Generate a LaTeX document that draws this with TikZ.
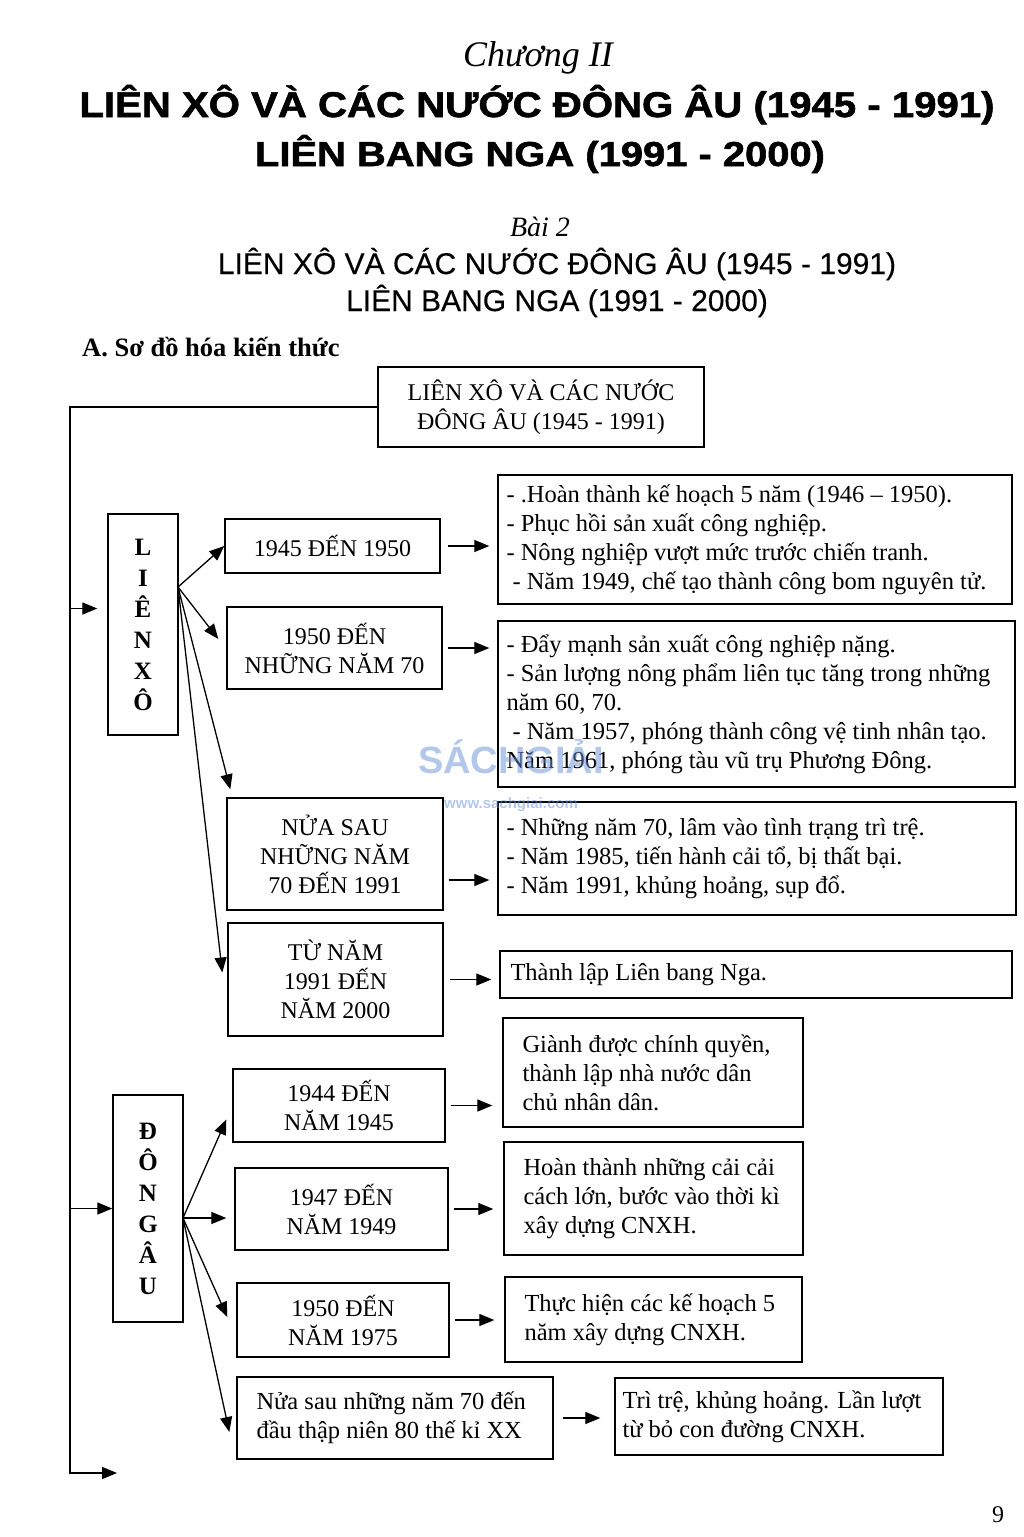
\documentclass[tikz,border=0pt]{standalone}
\usepackage{fontspec}
\usepackage{graphicx}
\setmainfont{Liberation Serif}
\setsansfont{Liberation Sans}
\newfontfamily\sansmed{Liberation Sans}[FakeBold=0.3]
\newfontfamily\sansheavy{Liberation Sans Bold}[FakeBold=1.5]
\usetikzlibrary{arrows.meta}
\definecolor{wm}{RGB}{105,145,215}
\newcommand\mkbox[7][]{\node[bx,#1, minimum width={#5-#3}, minimum height={#6-#4}] (#2) at ({(#3+#5)/2},{(#4+#6)/2}) {#7};}
\begin{document}
\begin{tikzpicture}[x=1pt,y=-1pt,
  bx/.style={draw, line width=1.4pt, inner sep=0pt, align=center, font=\fontsize{24}{29}\selectfont},
  txt/.style={inner sep=0pt, align=left, anchor=west, font=\fontsize{24.5}{29}\selectfont},
  vl/.style={font=\bfseries\fontsize{25}{31}\selectfont},
  arr/.style={line width=1.3pt, -{Triangle[length=15pt,width=12pt]}},
  ln/.style={line width=1.3pt}]
\useasboundingbox[fill=white] (0,0) rectangle (1024,1537);

% headings
\node[inner sep=0pt, anchor=base, font=\itshape\fontsize{36}{40}\selectfont] (ch) at (538,66) {Chương II};
\node[inner sep=0pt, anchor=base] (h1) at (537,117) {\resizebox{915pt}{32pt}{\sansheavy LIÊN XÔ VÀ CÁC NƯỚC ĐÔNG ÂU (1945 - 1991)}};
\node[inner sep=0pt, anchor=base] (h2) at (540,166) {\resizebox{570pt}{31pt}{\sansheavy LIÊN BANG NGA (1991 - 2000)}};
\node[inner sep=0pt, anchor=base, font=\itshape\fontsize{28}{32}\selectfont] (bai) at (540,236) {Bài 2};
\node[inner sep=0pt, anchor=base, font=\sansmed\fontsize{30}{34}\selectfont] (s1) at (557,274) {LIÊN XÔ VÀ CÁC NƯỚC ĐÔNG ÂU (1945 - 1991)};
\node[inner sep=0pt, anchor=base, font=\sansmed\fontsize{30}{34}\selectfont] (s2) at (557,311) {LIÊN BANG NGA (1991 - 2000)};
\node[inner sep=0pt, anchor=base west, font=\bfseries\fontsize{26.5}{30}\selectfont] (sec) at (82,356) {A. Sơ đồ hóa kiến thức};

% boxes
\mkbox{tb}{378}{367}{704}{447}{LIÊN XÔ VÀ CÁC NƯỚC\\ĐÔNG ÂU (1945 - 1991)}
\mkbox[vl]{lx}{108}{514}{178}{735}{L\\I\\Ê\\N\\X\\Ô}
\mkbox[vl]{da}{113}{1095}{183}{1322}{Đ\\Ô\\N\\G\\Â\\U}

\mkbox{b1}{225}{519}{440}{573}{1945 ĐẾN 1950}
\mkbox{b2}{227}{607}{442}{689}{1950 ĐẾN\\NHỮNG NĂM 70}
\mkbox{b3}{227}{798}{443}{910}{NỬA SAU\\NHỮNG NĂM\\70 ĐẾN 1991}
\mkbox{b4}{228}{923}{443}{1036}{TỪ NĂM\\1991 ĐẾN\\NĂM 2000}

\mkbox{r1}{498}{475}{1012}{604}{}
\mkbox{r2}{498}{621}{1015}{787}{}
\mkbox{r3}{498}{802}{1016}{915}{}
\mkbox{r4}{500}{951}{1012}{998}{}

\mkbox{g1}{233}{1069}{445}{1142}{1944 ĐẾN\\NĂM 1945}
\mkbox{g2}{235}{1168}{448}{1250}{1947 ĐẾN\\NĂM 1949}
\mkbox{g3}{237}{1283}{449}{1357}{1950 ĐẾN\\NĂM 1975}
\mkbox{g4}{237}{1377}{553}{1459}{}

\mkbox{e1}{503}{1018}{803}{1127}{}
\mkbox{e2}{504}{1142}{803}{1255}{}
\mkbox{e3}{505}{1277}{802}{1362}{}
\mkbox{e4}{615}{1378}{943}{1455}{}

% box texts
\node[txt] (r1t) at ([xshift=9pt]r1.west) {- .Hoàn thành kế hoạch 5 năm (1946 – 1950).\\- Phục hồi sản xuất công nghiệp.\\- Nông nghiệp vượt mức trước chiến tranh.\\\hspace*{6pt}- Năm 1949, chế tạo thành công bom nguyên tử.};
\node[txt] (r2t) at ([xshift=9pt]r2.west) {- Đẩy mạnh sản xuất công nghiệp nặng.\\- Sản lượng nông phẩm liên tục tăng trong những\\năm 60, 70.\\\hspace*{6pt}- Năm 1957, phóng thành công vệ tinh nhân tạo.\\Năm 1961, phóng tàu vũ trụ Phương Đông.};
\node[txt] (r3t) at ([xshift=9pt]r3.west) {- Những năm 70, lâm vào tình trạng trì trệ.\\- Năm 1985, tiến hành cải tổ, bị thất bại.\\- Năm 1991, khủng hoảng, sụp đổ.};
\node[txt] (r4t) at ([xshift=11pt]r4.west) {Thành lập Liên bang Nga.};
\node[txt] (g4t) at ([xshift=20pt]g4.west) {Nửa sau những năm 70 đến\\đầu thập niên 80 thế kỉ XX};
\node[txt] (e1t) at ([xshift=20pt]e1.west) {Giành được chính quyền,\\thành lập nhà nước dân\\chủ nhân dân.};
\node[txt] (e2t) at ([xshift=20pt]e2.west) {Hoàn thành những cải cải\\cách lớn, bước vào thời kì\\xây dựng CNXH.};
\node[txt] (e3t) at ([xshift=20pt]e3.west) {Thực hiện các kế hoạch 5\\năm xây dựng CNXH.};
\node[txt] (e4t) at ([xshift=8pt]e4.west) {Trì trệ, khủng hoảng. Lần lượt\\từ bỏ con đường CNXH.};

% trunk
\coordinate (tbot) at (70,1473);
\coordinate (tend) at (117,1473);
\draw[arr] (tb.west) -| (tbot) -- (tend);
\coordinate (lxin) at ([yshift=16pt]lx.west);
\draw[arr, shorten >=10pt] (lxin -| tbot) -- (lxin);
\draw[arr] (da.west -| tbot) -- (da.west);

% Lien Xo fan
\coordinate (lxo) at (178,587);
\draw[arr] (lxo) -- (b1.west);
\draw[arr] (lxo) -- ([xshift=-8pt,yshift=9pt]b2.west);
\draw[arr] (lxo) -- ([xshift=4pt,yshift=8pt]b3.north west);
\draw[arr] (lxo) -- ([xshift=-5pt,yshift=7pt]b4.west);

% Dong Au fan
\coordinate (dao) at (183,1218);
\draw[arr] (dao) -- ([xshift=-6pt,yshift=-14pt]g1.west);
\draw[arr] (dao) -- ([xshift=-8pt,yshift=-9pt]g2.west);
\draw[arr] (dao) -- ([xshift=-9pt,yshift=3pt]g3.west);
\draw[arr] (dao) -- ([xshift=-7pt,yshift=-14pt]g4.west);

% horizontal arrows
\draw[arr, shorten <=7pt, shorten >=8pt] (b1.east) -- (b1.east -| r1.west);
\draw[arr, shorten <=5pt, shorten >=8pt] (b2.east) -- (b2.east -| r2.west);
\coordinate (b3a) at ([yshift=-26pt]b3.east);
\draw[arr, shorten <=5pt, shorten >=8pt] (b3a) -- (b3a -| r3.west);
\draw[arr, shorten <=6pt, shorten >=8pt] (b4.east) -- (b4.east -| r4.west);
\draw[arr, shorten <=5pt, shorten >=10pt] (g1.east) -- (g1.east -| e1.west);
\draw[arr, shorten <=5pt, shorten >=10pt] (g2.east) -- (g2.east -| e2.west);
\draw[arr, shorten <=5pt, shorten >=10pt] (g3.east) -- (g3.east -| e3.west);
\draw[arr, shorten <=9pt, shorten >=14pt] (g4.east) -- (g4.east -| e4.west);

% watermark
\node[inner sep=0pt, text=wm, opacity=0.5, font=\sffamily\bfseries\fontsize{38}{38}\selectfont] (wm1) at (511,757) {SÁCHGIẢI};
\node[inner sep=0pt, text=wm, opacity=0.5, font=\sffamily\bfseries\fontsize{15}{15}\selectfont] (wm2) at (511,805) {www.sachgiai.com};

% page number
\node[inner sep=0pt, anchor=base, font=\fontsize{24}{28}\selectfont] (pg) at (998,1522) {9};
\end{tikzpicture}
\end{document}
